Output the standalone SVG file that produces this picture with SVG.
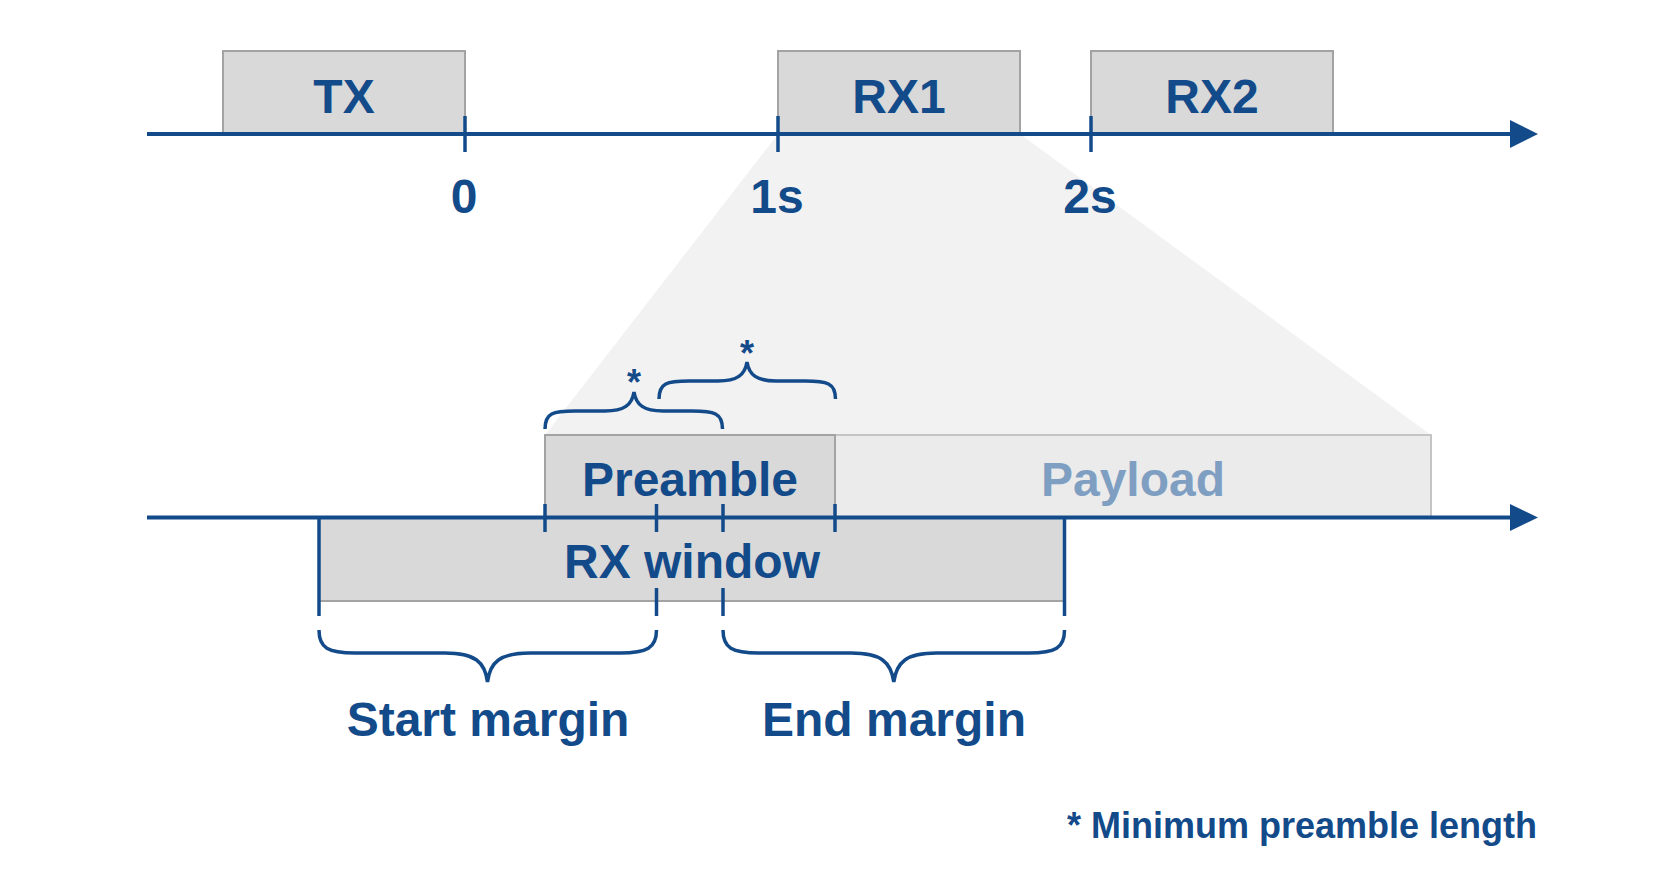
<svg xmlns="http://www.w3.org/2000/svg" width="1680" height="896" viewBox="0 0 1680 896">
<style>
.box{fill:#d9d9d9;stroke:#a3a3a3;stroke-width:2}
.ax{stroke:#134b8a;stroke-width:4;fill:none}
.tk{stroke:#134b8a;stroke-width:3.5;fill:none}
.br{stroke:#134b8a;stroke-width:3.5;fill:none;stroke-linecap:butt}
.ah{fill:#134b8a}
text{font-family:"Liberation Sans",Arial,sans-serif;font-weight:bold;fill:#134b8a;text-anchor:middle}
.big{font-size:48px}
</style>
<rect width="1680" height="896" fill="#ffffff"/>
<polygon id="zoom-area" points="778,134 1020,134 1431,435 545,435" fill="#f2f2f2"/>
<g id="tx"><rect class="box" x="223" y="51" width="242" height="83"/><text class="big" x="344" y="113">TX</text></g>
<g id="rx1"><rect class="box" x="778" y="51" width="242" height="83"/><text class="big" x="899" y="113">RX1</text></g>
<g id="rx2"><rect class="box" x="1091" y="51" width="242" height="83"/><text class="big" x="1212" y="113">RX2</text></g>
<g id="payload"><rect x="835" y="435" width="596" height="82" fill="#ebebeb" stroke="#c4c4c4" stroke-width="2"/><text class="big" x="1133" y="496" style="fill:#7f9fc2">Payload</text></g>
<g id="preamble"><rect class="box" x="545" y="435" width="290" height="82"/><text class="big" x="690" y="496">Preamble</text></g>
<g id="rx-window"><rect class="box" x="319" y="517" width="745.5" height="84"/><text class="big" x="692" y="578">RX window</text></g>
<g id="connectors">
<line class="ax" x1="147" y1="134" x2="1512" y2="134"/>
<polygon class="ah" points="1510,120 1538,134 1510,148"/>
<line class="ax" x1="147" y1="517.5" x2="1512" y2="517.5"/>
<polygon class="ah" points="1510,504 1538,517.5 1510,531"/>
<line class="tk" x1="465" y1="116" x2="465" y2="152"/>
<line class="tk" x1="778" y1="116" x2="778" y2="152"/>
<line class="tk" x1="1091" y1="116" x2="1091" y2="152"/>
<line class="tk" x1="545" y1="504" x2="545" y2="532"/>
<line class="tk" x1="656.5" y1="504" x2="656.5" y2="532"/>
<line class="tk" x1="723" y1="504" x2="723" y2="532"/>
<line class="tk" x1="835" y1="504" x2="835" y2="532"/>
<line class="tk" x1="319" y1="517" x2="319" y2="616"/>
<line class="tk" x1="1064.5" y1="517" x2="1064.5" y2="616"/>
<line class="tk" x1="656.5" y1="588" x2="656.5" y2="616"/>
<line class="tk" x1="723" y1="588" x2="723" y2="616"/>
<path class="br" d="M545,429 C545,413 553,411 575,411 L605,411 C624,411 632,405 634,392 C636,405 644,411 663,411 L692,411 C714,411 722.5,413 722.5,429"/>
<path class="br" d="M659,399 C659,383 667,381 689,381 L718,381 C737,381 745,375 747,362 C749,375 757,381 776,381 L805,381 C827,381 835.5,383 835.5,399"/>
<path class="br" d="M319,630 C319,648 328,653 355,653 L445,653 C475,653 485,662 487.5,682 C490,662 500,653 530,653 L620,653 C647,653 656.5,648 656.5,630"/>
<path class="br" d="M723,630 C723,648 732,653 759,653 L851,653 C881,653 891,662 893.8,682 C896.5,662 906.5,653 936.5,653 L1028.5,653 C1055.5,653 1064.5,648 1064.5,630"/>
</g>
<g id="labels">
<text class="big" x="464" y="213">0</text>
<text class="big" x="777" y="213">1s</text>
<text class="big" x="1090" y="213">2s</text>
<text x="634" y="395" style="font-size:36px">*</text>
<text x="747" y="366" style="font-size:36px">*</text>
<text class="big" x="488" y="736">Start margin</text>
<text class="big" x="894" y="736">End margin</text>
<text x="1537" y="838" style="font-size:36px;text-anchor:end">* Minimum preamble length</text>
</g>
</svg>
